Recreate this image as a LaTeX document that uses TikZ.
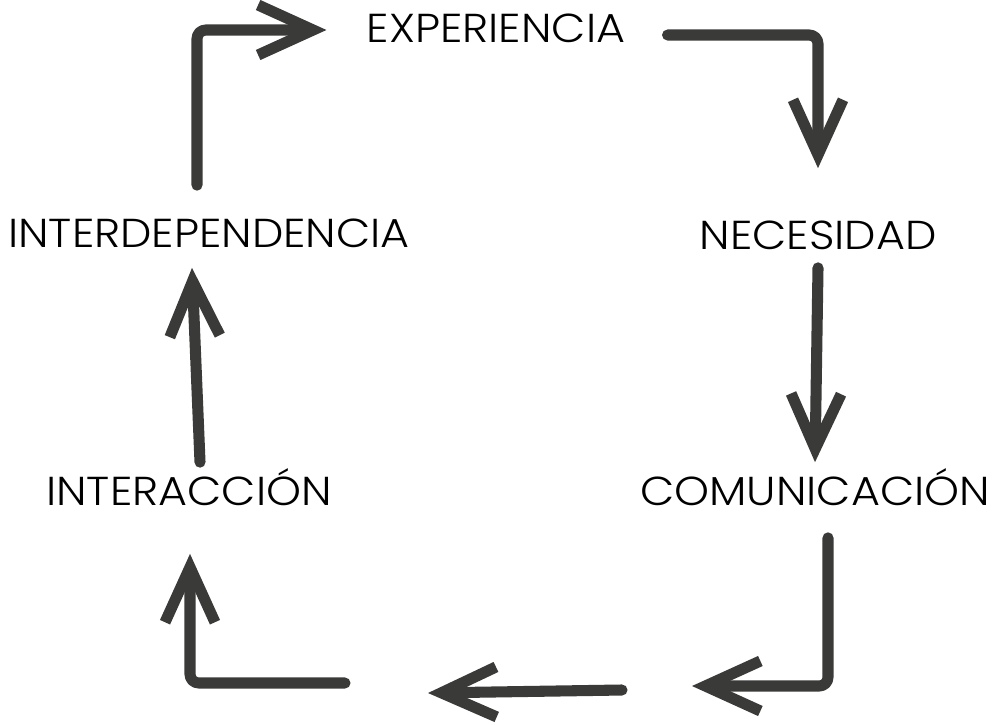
\documentclass[tikz,border=0pt]{standalone}
\usepackage{fontspec}
\IfFontExistsTF{Poppins Light}{\setmainfont{Poppins Light}[FakeStretch=1.1]}{\setmainfont{Poppins}[FakeStretch=1.1]}
\usetikzlibrary{arrows.meta,calc}
\definecolor{trazo}{HTML}{3A3A38}
\tikzset{
  etiqueta/.style={inner sep=0pt, text height=0.58cm, text depth=0pt, font=\fontsize{23}{23}\selectfont},
  flecha/.style={trazo, line width=6.3pt, line cap=round, line join=round, rounded corners=5pt,
    -{Straight Barb[length=1.1cm,width=1cm]}}
}

\begin{document}
\begin{tikzpicture}[x=0.02cm,y=-0.02cm]
\useasboundingbox (0,0) rectangle (997,724);

\node[etiqueta] (exp) at (496,28) {EXPERIENCIA};
\node[etiqueta] (nec) at (818,235) {NECESIDAD};
\node[etiqueta] (com) at (815,491) {COMUNICACIÓN};
\node[etiqueta] (inter) at (189,491) {INTERACCIÓN};
\node[etiqueta] (interdep) at (209,233) {INTERDEPENDENCIA};

% tramos de abajo
\coordinate (b1) at (692,686);
\coordinate (b2) at (622,690);
\coordinate (b3) at (428,693);
\coordinate (b4) at (345,683);

\draw[flecha] ($(interdep.north)+(-12,-33)$) |- ($(exp.west)+(-40,2)$);
\draw[flecha] ($(exp.east)+(42,7)$) -| ($(nec.north)+(0,-52)$);
\draw[flecha] ($(nec.south)+(0,18)$) -- ($(com.north)+(0,-14)$);
\draw[flecha] ($(com.south)+(13,32)$) |- (b1);
\draw[flecha] (b2) -- (b3);
\draw[flecha] (b4) -| ($(inter.south)+(1,48)$);
\draw[flecha] ($(inter.north)+(11,-14)$) -- ($(interdep.south)+(-17,20)$);
\end{tikzpicture}
\end{document}
